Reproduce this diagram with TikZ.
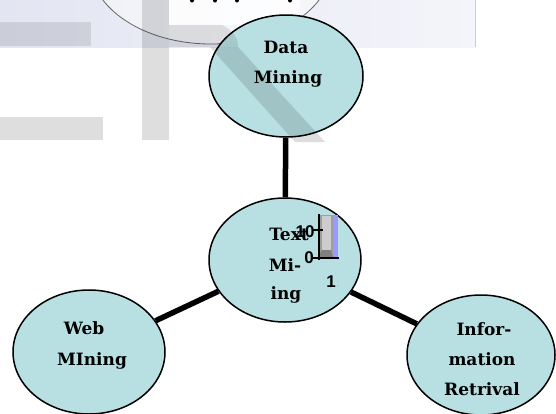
\documentclass[tikz,border=0pt]{standalone}
\usepackage{fontspec}
\setmainfont{DejaVu Serif}
\newfontfamily\chartfont{Liberation Sans}
\usetikzlibrary{shapes.geometric}
\definecolor{nodefill}{HTML}{B8E0E3}
\definecolor{bandL}{HTML}{E3E5F2}
\definecolor{bandR}{HTML}{F4F5FA}
\definecolor{barblue}{HTML}{9999FF}
\begin{document}
\begin{tikzpicture}[x=1pt,y=-1pt,
  bubble/.style={ellipse,draw=black,line width=1.5pt,fill=nodefill,inner sep=0pt},
  lbl/.style={anchor=base,inner sep=0pt,font=\fontsize{17}{30}\selectfont\bfseries},
  link/.style={line width=5.5pt},
  wmark/.style={fill=black,fill opacity=0.13},
  chartlbl/.style={anchor=base,inner sep=0pt,font=\fontsize{17}{17}\selectfont\chartfont\bfseries}]
\useasboundingbox (0,0) rectangle (556,413);
\fill[white] (0,0) rectangle (556,413);
% background band
\shade[left color=bandL,right color=bandR] (0,0) rectangle (475,47);
\draw[black!20,line width=0.6pt] (475,0) -- (475,47);
\filldraw[fill=white,fill opacity=0.45,draw=black!60,line width=0.8pt] (211,-36) ellipse [x radius=121, y radius=80];
\fill[white,opacity=0.8] (169,0) rectangle (300,25);
\foreach \dx in {192,215,237,290} \fill[black] (\dx,0.5) circle [radius=2];
% nodes
\node[bubble,minimum width=154pt,minimum height=122pt] (dm) at (286,76) {};
\node[bubble,minimum width=152pt,minimum height=124pt] (tm) at (285,260) {};
\node[bubble,minimum width=152pt,minimum height=124pt] (web) at (89,352) {};
\node[bubble,minimum width=148pt,minimum height=120pt] (ir) at (481,355) {};
% connectors
\draw[link] (dm) -- (tm);
\draw[link] (web) -- (tm);
\draw[link] (ir) -- (tm);
% watermark
\fill[wmark] (142,0) rectangle (169,140);
\fill[wmark] (0,117) rectangle (103,140);
\fill[wmark,fill opacity=0.1] (0,22) rectangle (91,46);
\fill[wmark,fill opacity=0.1] (169,25) -- (222,25) .. controls (235,32) and (238,40) .. (238,47) -- (169,47) -- cycle;
\fill[wmark] (210,47) -- (238,47) -- (325,142) -- (295,142) -- cycle;
% labels
\node[lbl] (dm1) at (286,53) {Data};
\node[lbl] (dm2) at (288,83) {Mining};
\node[lbl] (web1) at (84,334) {Web};
\node[lbl] (web2) at (92,365) {MIning};
\node[lbl] (ir1) at (484,335) {Infor-};
\node[lbl] (ir2) at (482,365) {mation};
\node[lbl] (ir3) at (482,395) {Retrival};
\begin{scope}
\clip (240,210) rectangle (330,303);
\node[lbl] (tm1) at (289,240) {Text};
\node[lbl] (tm2) at (285,271) {Mi-};
\node[lbl] (tm3) at (286,299) {ing};
\end{scope}
% embedded chart
\fill[black!38] (318,215) rectangle (333,257);
\fill[black!20] (322,216) rectangle (331,250);
\fill[black!50] (318,257) -- (322,250) -- (331,250) -- (333,257) -- cycle;
\fill[barblue] (333,215) rectangle (338,257);
\draw[line width=2pt] (319,214) -- (319,260);
\draw[line width=2pt] (312,230) -- (323,230);
\draw[line width=2.4pt] (312,258) -- (339,258);
\node[chartlbl] (c10) at (305,237) {10};
\node[chartlbl] (c0) at (309,263) {0};
\node[chartlbl] (c1) at (331,287) {1};
\node[chartlbl,text=black!30,font=\fontsize{10}{10}\selectfont\chartfont] (c1b) at (338,286) {:};
\end{tikzpicture}
\end{document}
